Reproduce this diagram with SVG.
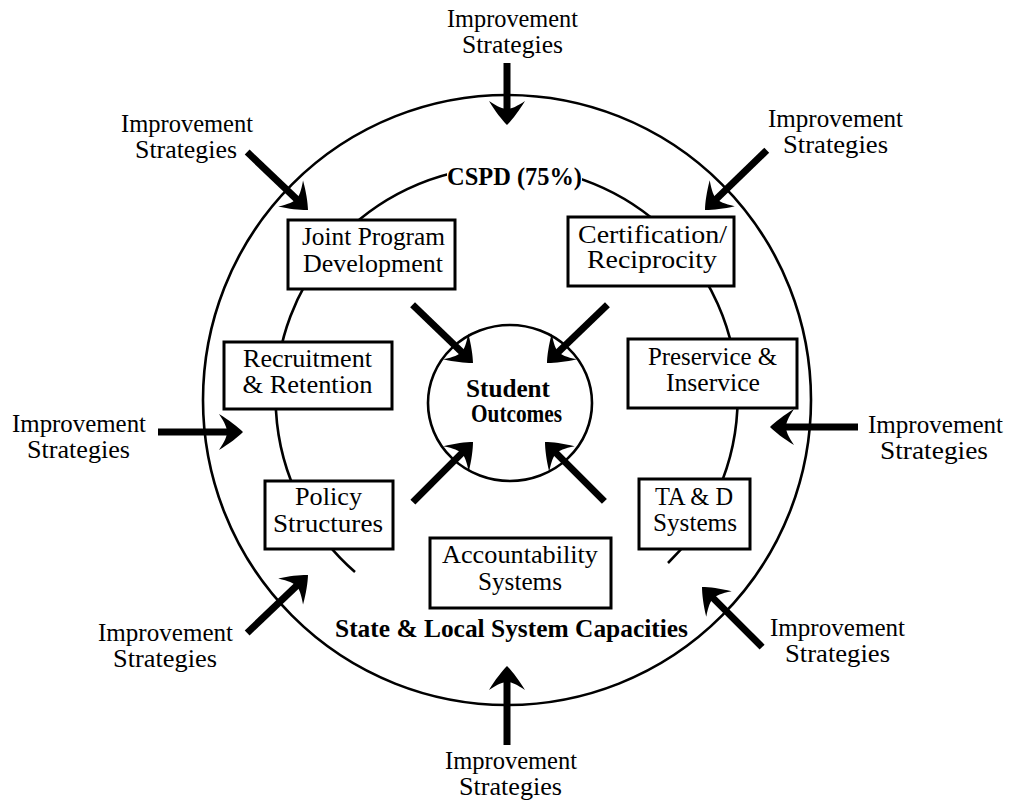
<svg xmlns="http://www.w3.org/2000/svg" xmlns:xlink="http://www.w3.org/1999/xlink" width="1010" height="804" viewBox="0 0 1010 804">
  <style>
    text { font-family: "Liberation Serif", "Times New Roman", serif; font-size: 25px; fill: #000; text-anchor: middle; }
    .b { font-weight: bold; }
    .ring { fill: none; stroke: #000; stroke-width: 2.6; }
    .box rect { fill: #fff; stroke: #000; stroke-width: 3; }
    .shaft { stroke: #000; stroke-width: 7; stroke-linecap: butt; }
  </style>
  <defs>
    <!-- arrowhead pointing +x, tip at origin -->
    <path id="head" d="M0,0 C-5,-5 -14,-12 -24,-18 C-18,-9 -16,-4 -16,0 C-16,4 -18,9 -24,18 C-14,12 -5,5 0,0 Z" fill="#000"/>
  </defs>
  <rect width="1010" height="804" fill="#fff"/>

  <!-- outer ring: state & local system capacities -->
  <g id="outer-ring">
    <ellipse class="ring" cx="507" cy="400" rx="304" ry="305"/>
    <text class="b" x="511.5" y="637" textLength="353" lengthAdjust="spacingAndGlyphs">State &amp; Local System Capacities</text>
  </g>

  <!-- inner ring: CSPD -->
  <g id="cspd-ring">
    <path class="ring" d="M355,572 A231,231 0 1 1 668,563"/>
    <rect x="447" y="164" width="135" height="28" fill="#fff"/>
    <text class="b" x="514.5" y="185" textLength="135" lengthAdjust="spacingAndGlyphs">CSPD (75%)</text>
  </g>

  <!-- centre -->
  <g id="student-outcomes">
    <ellipse class="ring" cx="510" cy="403" rx="82" ry="78"/>
    <text class="b" x="508" y="397" textLength="84" lengthAdjust="spacingAndGlyphs">Student</text>
    <text class="b" x="516.5" y="422" textLength="91" lengthAdjust="spacingAndGlyphs">Outcomes</text>
  </g>

  <g id="connectors">
    <!-- strategies into the outer ring -->
    <g transform="translate(507,125) rotate(90)"><line class="shaft" x1="-62" y1="0" x2="-14" y2="0"/><use xlink:href="#head"/></g>
    <g transform="translate(308,210) rotate(43.6)"><line class="shaft" x1="-84" y1="0" x2="-14" y2="0"/><use xlink:href="#head"/></g>
    <g transform="translate(705,210) rotate(135.9)"><line class="shaft" x1="-86" y1="0" x2="-14" y2="0"/><use xlink:href="#head"/></g>
    <g transform="translate(243,432) rotate(0)"><line class="shaft" x1="-85" y1="0" x2="-14" y2="0"/><use xlink:href="#head"/></g>
    <g transform="translate(770,427) rotate(180)"><line class="shaft" x1="-88" y1="0" x2="-14" y2="0"/><use xlink:href="#head"/></g>
    <g transform="translate(308,575) rotate(-43.6)"><line class="shaft" x1="-84" y1="0" x2="-14" y2="0"/><use xlink:href="#head"/></g>
    <g transform="translate(702,587) rotate(-135)"><line class="shaft" x1="-85" y1="0" x2="-14" y2="0"/><use xlink:href="#head"/></g>
    <g transform="translate(507,666) rotate(-90)"><line class="shaft" x1="-79" y1="0" x2="-14" y2="0"/><use xlink:href="#head"/></g>
    <!-- capacities into student outcomes -->
    <g transform="translate(473,363) rotate(44)"><line class="shaft" x1="-84" y1="0" x2="-14" y2="0"/><use xlink:href="#head"/></g>
    <g transform="translate(547,363) rotate(136)"><line class="shaft" x1="-84" y1="0" x2="-14" y2="0"/><use xlink:href="#head"/></g>
    <g transform="translate(473,442) rotate(-45)"><line class="shaft" x1="-85" y1="0" x2="-14" y2="0"/><use xlink:href="#head"/></g>
    <g transform="translate(545,442) rotate(-135)"><line class="shaft" x1="-84" y1="0" x2="-14" y2="0"/><use xlink:href="#head"/></g>
  </g>

  <!-- capacity boxes -->
  <g id="joint-program" class="box">
    <rect x="288" y="220" width="167" height="69"/>
    <text x="373.5" y="245" textLength="143" lengthAdjust="spacingAndGlyphs">Joint Program</text>
    <text x="373" y="272" textLength="140" lengthAdjust="spacingAndGlyphs">Development</text>
  </g>
  <g id="certification" class="box">
    <rect x="568" y="217" width="166" height="69"/>
    <text x="652.5" y="243" textLength="149" lengthAdjust="spacingAndGlyphs">Certification/</text>
    <text x="652" y="268" textLength="130" lengthAdjust="spacingAndGlyphs">Reciprocity</text>
  </g>
  <g id="recruitment" class="box">
    <rect x="224" y="342" width="168" height="67"/>
    <text x="307.5" y="367" textLength="129" lengthAdjust="spacingAndGlyphs">Recruitment</text>
    <text x="307.5" y="393" textLength="130" lengthAdjust="spacingAndGlyphs">&amp; Retention</text>
  </g>
  <g id="preservice" class="box">
    <rect x="628" y="339" width="169" height="69"/>
    <text x="712.5" y="365" textLength="129" lengthAdjust="spacingAndGlyphs">Preservice &amp;</text>
    <text x="713" y="391" textLength="94" lengthAdjust="spacingAndGlyphs">Inservice</text>
  </g>
  <g id="policy" class="box">
    <rect x="265" y="481" width="128" height="68"/>
    <text x="328.5" y="505" textLength="67" lengthAdjust="spacingAndGlyphs">Policy</text>
    <text x="328" y="532" textLength="110" lengthAdjust="spacingAndGlyphs">Structures</text>
  </g>
  <g id="tad" class="box">
    <rect x="639" y="479" width="111" height="70"/>
    <text x="694" y="505" textLength="78" lengthAdjust="spacingAndGlyphs">TA &amp; D</text>
    <text x="695" y="531" textLength="84" lengthAdjust="spacingAndGlyphs">Systems</text>
  </g>
  <g id="accountability" class="box">
    <rect x="430" y="538" width="181" height="70"/>
    <text x="520" y="563" textLength="156" lengthAdjust="spacingAndGlyphs">Accountability</text>
    <text x="520" y="590" textLength="84" lengthAdjust="spacingAndGlyphs">Systems</text>
  </g>

  <!-- improvement strategy labels -->
  <g id="strategies-top">
    <text x="512.5" y="27" textLength="131" lengthAdjust="spacingAndGlyphs">Improvement</text>
    <text x="512.5" y="53" textLength="101" lengthAdjust="spacingAndGlyphs">Strategies</text>
  </g>
  <g id="strategies-top-left">
    <text x="187" y="132" textLength="132" lengthAdjust="spacingAndGlyphs">Improvement</text>
    <text x="186" y="158" textLength="102" lengthAdjust="spacingAndGlyphs">Strategies</text>
  </g>
  <g id="strategies-top-right">
    <text x="835.5" y="127" textLength="135" lengthAdjust="spacingAndGlyphs">Improvement</text>
    <text x="835.5" y="153" textLength="105" lengthAdjust="spacingAndGlyphs">Strategies</text>
  </g>
  <g id="strategies-left">
    <text x="79" y="432" textLength="134" lengthAdjust="spacingAndGlyphs">Improvement</text>
    <text x="78.5" y="458" textLength="103" lengthAdjust="spacingAndGlyphs">Strategies</text>
  </g>
  <g id="strategies-right">
    <text x="935.5" y="433" textLength="135" lengthAdjust="spacingAndGlyphs">Improvement</text>
    <text x="934" y="459" textLength="108" lengthAdjust="spacingAndGlyphs">Strategies</text>
  </g>
  <g id="strategies-bottom-left">
    <text x="165.5" y="641" textLength="135" lengthAdjust="spacingAndGlyphs">Improvement</text>
    <text x="165" y="667" textLength="104" lengthAdjust="spacingAndGlyphs">Strategies</text>
  </g>
  <g id="strategies-bottom-right">
    <text x="837.5" y="636" textLength="135" lengthAdjust="spacingAndGlyphs">Improvement</text>
    <text x="837.5" y="662" textLength="105" lengthAdjust="spacingAndGlyphs">Strategies</text>
  </g>
  <g id="strategies-bottom">
    <text x="511" y="769" textLength="132" lengthAdjust="spacingAndGlyphs">Improvement</text>
    <text x="510.5" y="795" textLength="103" lengthAdjust="spacingAndGlyphs">Strategies</text>
  </g>
</svg>
